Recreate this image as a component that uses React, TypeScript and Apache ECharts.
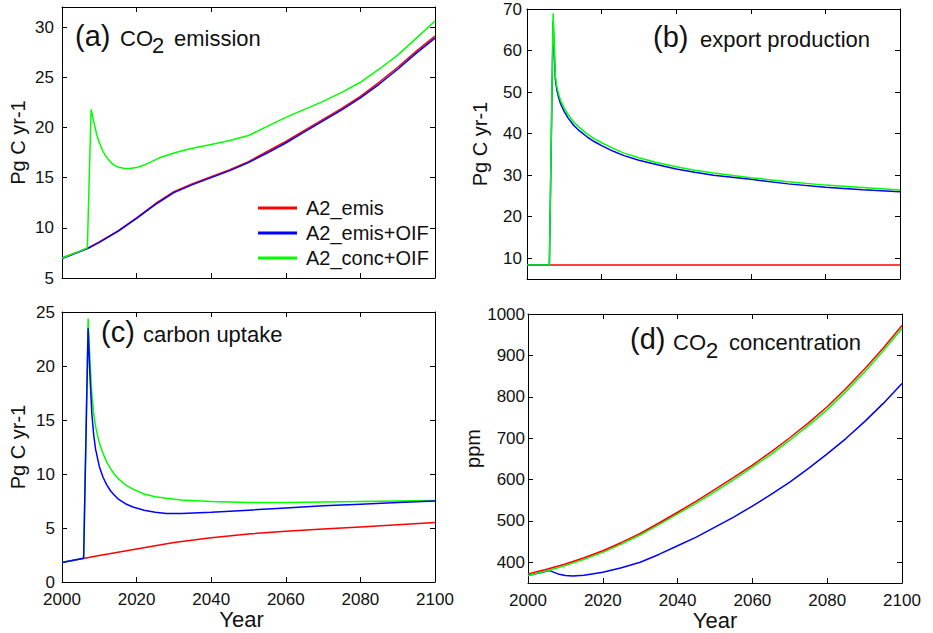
import React, { useEffect, useRef } from "react";
import * as echarts from "echarts";

// ---------- tick labels ----------
const xTicks = [2000, 2020, 2040, 2060, 2080, 2100];
const yTicksEmis = [5, 10, 15, 20, 25, 30];
const yTicksExport = [10, 20, 30, 40, 50, 60, 70];
const yTicksUptake = [0, 5, 10, 15, 20, 25];
const yTicksConc = [400, 500, 600, 700, 800, 900, 1000];

const seriesNames = ["A2_emis", "A2_emis+OIF", "A2_conc+OIF"];

// ---------- (a) CO2 emission ----------
const yearsEmis = [2000, 2005, 2007, 2010, 2015, 2020, 2025, 2030, 2035, 2040, 2045, 2050, 2055, 2060, 2065, 2070, 2075, 2080, 2085, 2090, 2095, 2100];
const emisA2 = [7.0, 7.7, 8.0, 8.6, 9.7, 11.0, 12.4, 13.6, 14.4, 15.1, 15.8, 16.6, 17.6, 18.6, 19.7, 20.8, 21.9, 23.1, 24.5, 26.0, 27.6, 29.1];
const emisOIF = [6.95, 7.65, 7.95, 8.55, 9.65, 10.95, 12.3, 13.5, 14.3, 15.0, 15.7, 16.5, 17.45, 18.45, 19.55, 20.65, 21.75, 22.95, 24.3, 25.8, 27.4, 28.9];
const yearsEmisConc = [2000, 2005, 2006.8, 2007.8, 2008.5, 2009.3, 2010, 2011, 2012, 2013, 2014, 2015, 2016.5, 2018, 2020, 2022, 2024, 2026, 2028, 2030, 2033, 2036, 2040, 2045, 2050, 2055, 2060, 2065, 2070, 2075, 2080, 2085, 2090, 2095, 2100];
const emisConc = [7.0, 7.7, 8.0, 21.8, 20.6, 19.3, 18.5, 17.6, 17.0, 16.55, 16.25, 16.05, 15.93, 15.9, 16.0, 16.25, 16.6, 16.95, 17.2, 17.45, 17.75, 18.0, 18.3, 18.7, 19.2, 20.1, 21.0, 21.8, 22.6, 23.5, 24.5, 25.8, 27.2, 28.9, 30.6];

// ---------- (b) export production ----------
const yearsDecade = [2000, 2010, 2020, 2030, 2040, 2050, 2060, 2070, 2080, 2090, 2100];
const exportA2 = [8.4, 8.4, 8.4, 8.4, 8.4, 8.4, 8.4, 8.4, 8.4, 8.4, 8.4];
const yearsExport = [2000, 2006, 2007, 2007.6, 2008, 2008.5, 2009, 2010, 2011, 2012.5, 2014, 2016, 2018, 2020, 2023, 2026, 2030, 2035, 2040, 2045, 2050, 2060, 2070, 2080, 2090, 2100];
const exportOIF = [8.4, 8.4, 67, 53, 50.5, 48.6, 47.2, 45.3, 43.8, 42.0, 40.7, 39.3, 38.1, 37.1, 35.8, 34.7, 33.6, 32.5, 31.5, 30.7, 30.0, 29.0, 27.9, 27.1, 26.5, 26.0];
const exportConc = [8.4, 8.4, 69, 54, 51.3, 49.4, 48.0, 46.1, 44.6, 42.8, 41.5, 40.0, 38.8, 37.8, 36.5, 35.3, 34.2, 33.0, 32.0, 31.2, 30.5, 29.4, 28.4, 27.6, 27.0, 26.4];

// ---------- (c) carbon uptake ----------
const uptakeA2 = [1.8, 2.45, 3.05, 3.65, 4.1, 4.45, 4.7, 4.9, 5.1, 5.3, 5.5];
const yearsUptake = [2000, 2005.8, 2007, 2007.5, 2008, 2008.5, 2009, 2010, 2011, 2012, 2013, 2014, 2015, 2017, 2019, 2022, 2025, 2028, 2032, 2040, 2050, 2060, 2070, 2080, 2090, 2100];
const uptakeOIF = [1.8, 2.2, 23.5, 19.0, 15.6, 13.6, 12.3, 10.7, 9.7, 9.0, 8.45, 8.05, 7.7, 7.25, 6.95, 6.65, 6.45, 6.35, 6.35, 6.45, 6.65, 6.85, 7.05, 7.2, 7.35, 7.5];
const uptakeConc = [1.8, 2.2, 24.4, 20.5, 17.4, 15.6, 14.4, 12.9, 11.9, 11.1, 10.5, 10.0, 9.6, 9.0, 8.6, 8.15, 7.9, 7.75, 7.6, 7.45, 7.35, 7.35, 7.4, 7.45, 7.5, 7.55];

// ---------- (d) CO2 concentration ----------
const yearsConc = [2000, 2005, 2010, 2015, 2020, 2025, 2030, 2035, 2040, 2045, 2050, 2055, 2060, 2065, 2070, 2075, 2080, 2085, 2090, 2095, 2100];
const concA2 = [372, 383, 396, 411, 428, 448, 470, 495, 521, 548, 576, 605, 635, 667, 701, 737, 776, 820, 867, 918, 972];
const concConc = [368, 379, 392, 407, 424, 444, 466, 491, 517, 543, 571, 600, 630, 661, 695, 731, 769, 813, 860, 911, 965];
const yearsConcOIF = [2000, 2005.8, 2008, 2010, 2012, 2015, 2020, 2025, 2030, 2035, 2040, 2045, 2050, 2055, 2060, 2065, 2070, 2075, 2080, 2085, 2090, 2095, 2100];
const concOIF = [368, 380, 372, 368, 367, 369, 376, 387, 400, 419, 440, 461, 485, 509, 536, 564, 594, 627, 662, 699, 740, 784, 832];

const FONT = '"Liberation Sans", Arial, Helvetica, sans-serif';
const COLORS = ["#ff0000", "#0000ff", "#00ff00"];

const zip = (xs: number[], ys: number[]) => xs.map((x, i) => [x, ys[i]]);

export default function App() {
  const ref = useRef<HTMLDivElement>(null);

  useEffect(() => {
    if (!ref.current) return;
    const chart = echarts.init(ref.current, undefined, { renderer: "svg" });

    const grids = [
      { left: 62, top: 7, width: 373, height: 271 },
      { left: 527, top: 9, width: 373, height: 270 },
      { left: 62, top: 312, width: 373, height: 270 },
      { left: 528, top: 314, width: 374, height: 269 },
    ];
    const yRanges = [
      [5, 32],
      [5, 70],
      [0, 25],
      [350, 1000],
    ];
    const yTicks = [yTicksEmis, yTicksExport, yTicksUptake, yTicksConc];
    const yNames = ["Pg C yr-1", "Pg C yr-1", "Pg C yr-1", "ppm"];
    const yNameGaps = [34, 37, 34, 41];
    const yLabelMargins = [8, 5, 7, 3];
    // drawing order per panel (red, blue, green)
    const zOrder = [
      [2, 3, 4],
      [2, 3, 4],
      [2, 4, 3],
      [4, 2, 3],
    ];

    const axisLine = { show: true, onZero: false, lineStyle: { color: "#000", width: 1 } };
    const tick = (vals: number[]) => ({
      show: true,
      inside: true,
      length: 5,
      customValues: vals,
      lineStyle: { color: "#000", width: 1 },
    });
    const plain = (v: number) => String(v);

    const xAxis: any[] = [];
    const yAxis: any[] = [];
    grids.forEach((_, i) => {
      const showX = i >= 2;
      xAxis.push({
        type: "value",
        gridIndex: i,
        position: "bottom",
        min: 2000,
        max: 2100,
        axisLine,
        axisTick: tick(xTicks),
        splitLine: { show: false },
        axisLabel: {
          show: showX,
          customValues: xTicks,
          formatter: plain,
          margin: 9,
          fontSize: 17,
          color: "#111",
          fontFamily: FONT,
        },
        name: showX ? "Year" : "",
        nameLocation: "middle",
        nameGap: 26,
        nameTextStyle: {
          fontSize: 22,
          color: "#111",
          fontFamily: FONT,
          padding: i === 2 ? [0, 14, 0, 0] : [0, 0, 0, 0],
        },
      });
      xAxis.push({
        type: "value",
        gridIndex: i,
        position: "top",
        min: 2000,
        max: 2100,
        axisLine,
        axisTick: tick(xTicks),
        splitLine: { show: false },
        axisLabel: { show: false },
      });
      yAxis.push({
        type: "value",
        gridIndex: i,
        position: "left",
        min: yRanges[i][0],
        max: yRanges[i][1],
        axisLine,
        axisTick: tick(yTicks[i]),
        splitLine: { show: false },
        axisLabel: {
          show: true,
          customValues: yTicks[i],
          formatter: plain,
          margin: yLabelMargins[i],
          fontSize: 17,
          color: "#111",
          fontFamily: FONT,
        },
        name: yNames[i],
        nameLocation: "middle",
        nameGap: yNameGaps[i],
        nameTextStyle: { fontSize: 20, color: "#111", fontFamily: FONT },
      });
      yAxis.push({
        type: "value",
        gridIndex: i,
        position: "right",
        min: yRanges[i][0],
        max: yRanges[i][1],
        axisLine,
        axisTick: tick(yTicks[i]),
        splitLine: { show: false },
        axisLabel: { show: false },
      });
    });

    const panelData = [
      [zip(yearsEmis, emisA2), zip(yearsEmis, emisOIF), zip(yearsEmisConc, emisConc)],
      [zip(yearsDecade, exportA2), zip(yearsExport, exportOIF), zip(yearsExport, exportConc)],
      [zip(yearsDecade, uptakeA2), zip(yearsUptake, uptakeOIF), zip(yearsUptake, uptakeConc)],
      [zip(yearsConc, concA2), zip(yearsConcOIF, concOIF), zip(yearsConc, concConc)],
    ];

    const series: any[] = [];
    panelData.forEach((sets, i) => {
      sets.forEach((data, k) => {
        series.push({
          type: "line",
          name: seriesNames[k],
          xAxisIndex: 2 * i,
          yAxisIndex: 2 * i,
          data,
          showSymbol: false,
          symbol: "none",
          clip: true,
          itemStyle: { color: COLORS[k] },
          lineStyle: { color: COLORS[k], width: 1.5 },
          z: zOrder[i][k],
        });
      });
    });

    const txt = (text: string, x: number, baseline: number, fs: number) => ({
      type: "text",
      x,
      y: baseline - 0.35 * fs,
      z: 50,
      style: {
        text,
        fontSize: fs,
        fontFamily: FONT,
        fill: "#111",
        align: "left",
        verticalAlign: "middle",
      },
    });

    const graphic = [
      txt("(a)", 75, 46, 29),
      txt("CO", 120, 46.5, 22),
      txt("2", 152, 53.5, 22),
      txt("emission", 174, 46.5, 22),

      txt("(b)", 653, 47, 29),
      txt("export production", 700, 47, 22),

      txt("(c)", 101, 342, 29),
      txt("carbon uptake", 143, 342, 22),

      txt("(d)", 630, 349, 29),
      txt("CO", 673, 350, 22),
      txt("2", 706, 358, 22),
      txt("concentration", 729, 350, 22),
    ];

    chart.setOption({
      animation: false,
      backgroundColor: "#fff",
      textStyle: { fontFamily: FONT },
      grid: grids.map((g) => ({ ...g, show: false, containLabel: false })),
      xAxis,
      yAxis,
      series,
      graphic,
      legend: {
        data: seriesNames,
        orient: "vertical",
        left: 253,
        top: 193,
        itemWidth: 39,
        itemHeight: 3,
        itemGap: 5,
        icon: "rect",
        selectedMode: false,
        textStyle: { fontSize: 20, color: "#111", fontFamily: FONT, padding: [0, 0, 0, 4] },
      },
    });

    return () => chart.dispose();
  }, []);

  return (
    <div
      ref={ref}
      style={{ position: "fixed", left: 0, top: 0, width: 933, height: 633, background: "#fff" }}
    />
  );
}
